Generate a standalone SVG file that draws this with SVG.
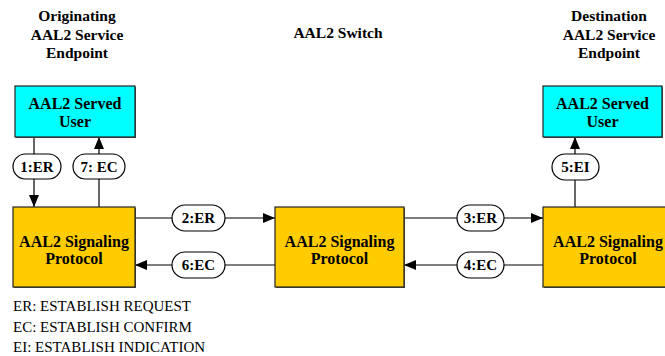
<svg xmlns="http://www.w3.org/2000/svg" width="665" height="356" viewBox="0 0 665 356">
  <style>
    .title { font-family: "Liberation Serif", "Times New Roman", serif; font-weight: bold; font-size: 15.5px; fill: #000; text-anchor: middle; }
    .box-text { font-family: "Liberation Serif", "Times New Roman", serif; font-weight: bold; font-size: 16px; fill: #000; text-anchor: middle; }
    .pill-text { font-family: "Liberation Serif", "Times New Roman", serif; font-weight: bold; font-size: 15px; fill: #000; text-anchor: middle; }
    .legend { font-family: "Liberation Serif", "Times New Roman", serif; font-size: 15px; fill: #000; }
    .user { fill: #00FFFF; stroke: #222; stroke-width: 1.2; }
    .proto { fill: #FFCC00; stroke: #222; stroke-width: 1.2; }
    .shadow { fill: #555; }
    .pill { fill: #fff; stroke: #000; stroke-width: 1.2; }
    .conn { stroke: #000; stroke-width: 1.2; fill: none; }
  </style>
  <defs>
    <marker id="arrow" viewBox="0 0 12 10" refX="12" refY="5" markerWidth="12" markerHeight="10" markerUnits="userSpaceOnUse" orient="auto">
      <path d="M0,0 L12,5 L0,10 Z" fill="#000"/>
    </marker>
  </defs>

  <rect width="665" height="356" fill="#fff"/>

  <!-- column headings -->
  <g id="headings">
    <text class="title" x="77" y="21">Originating</text>
    <text class="title" x="77" y="40">AAL2 Service</text>
    <text class="title" x="77" y="58">Endpoint</text>
    <text class="title" x="338" y="38">AAL2 Switch</text>
    <text class="title" x="609" y="21">Destination</text>
    <text class="title" x="609" y="40">AAL2 Service</text>
    <text class="title" x="609" y="58">Endpoint</text>
  </g>

  <!-- connectors -->
  <g id="connectors">
    <line class="conn" x1="34" y1="137" x2="34" y2="207" marker-end="url(#arrow)"/>
    <line class="conn" x1="99" y1="207" x2="99" y2="137" marker-end="url(#arrow)"/>
    <line class="conn" x1="575" y1="207" x2="575" y2="137" marker-end="url(#arrow)"/>
    <line class="conn" x1="135" y1="218" x2="275" y2="218" marker-end="url(#arrow)"/>
    <line class="conn" x1="275" y1="265" x2="135" y2="265" marker-end="url(#arrow)"/>
    <line class="conn" x1="404" y1="218" x2="543" y2="218" marker-end="url(#arrow)"/>
    <line class="conn" x1="543" y1="265" x2="404" y2="265" marker-end="url(#arrow)"/>

    <rect class="pill" x="13" y="154" width="48" height="25" rx="12.5"/>
    <text class="pill-text" x="37" y="171.5">1:ER</text>
    <rect class="pill" x="73" y="154" width="52" height="25" rx="12.5"/>
    <text class="pill-text" x="99" y="171.5">7: EC</text>
    <rect class="pill" x="552" y="154" width="47" height="26" rx="13"/>
    <text class="pill-text" x="575.5" y="172">5:EI</text>
    <rect class="pill" x="172" y="205" width="53" height="26" rx="13"/>
    <text class="pill-text" x="198.5" y="223">2:ER</text>
    <rect class="pill" x="172" y="252" width="53" height="26" rx="13"/>
    <text class="pill-text" x="198.5" y="270">6:EC</text>
    <rect class="pill" x="457" y="205" width="47" height="26" rx="13"/>
    <text class="pill-text" x="480.5" y="223">3:ER</text>
    <rect class="pill" x="457" y="252" width="47" height="26" rx="13"/>
    <text class="pill-text" x="480.5" y="270">4:EC</text>
  </g>

  <!-- originating served user -->
  <g id="orig-user">
    <rect class="shadow" x="16" y="87" width="120" height="51"/>
    <rect class="user" x="15" y="86" width="120" height="51"/>
    <text class="box-text" x="75" y="109">AAL2 Served</text>
    <text class="box-text" x="75" y="127">User</text>
  </g>

  <!-- originating signaling protocol -->
  <g id="orig-proto">
    <rect class="shadow" x="14" y="208" width="122" height="80"/>
    <rect class="proto" x="13" y="207" width="122" height="80"/>
    <text class="box-text" x="74" y="247">AAL2 Signaling</text>
    <text class="box-text" x="74" y="264">Protocol</text>
  </g>

  <!-- switch signaling protocol -->
  <g id="switch-proto">
    <rect class="shadow" x="276" y="208" width="129" height="80"/>
    <rect class="proto" x="275" y="207" width="129" height="80"/>
    <text class="box-text" x="339.5" y="247">AAL2 Signaling</text>
    <text class="box-text" x="339.5" y="264">Protocol</text>
  </g>

  <!-- destination served user -->
  <g id="dest-user">
    <rect class="shadow" x="544" y="87" width="119" height="51"/>
    <rect class="user" x="543" y="86" width="119" height="51"/>
    <text class="box-text" x="602.5" y="109">AAL2 Served</text>
    <text class="box-text" x="602.5" y="127">User</text>
  </g>

  <!-- destination signaling protocol -->
  <g id="dest-proto">
    <rect class="shadow" x="544" y="208" width="130" height="80"/>
    <rect class="proto" x="543" y="207" width="130" height="80"/>
    <text class="box-text" x="608" y="247">AAL2 Signaling</text>
    <text class="box-text" x="608" y="264">Protocol</text>
  </g>

  <!-- abbreviations -->
  <g id="legend">
    <text class="legend" x="13" y="311">ER: ESTABLISH REQUEST</text>
    <text class="legend" x="13" y="332">EC: ESTABLISH CONFIRM</text>
    <text class="legend" x="13" y="352">EI: ESTABLISH INDICATION</text>
  </g>
</svg>
